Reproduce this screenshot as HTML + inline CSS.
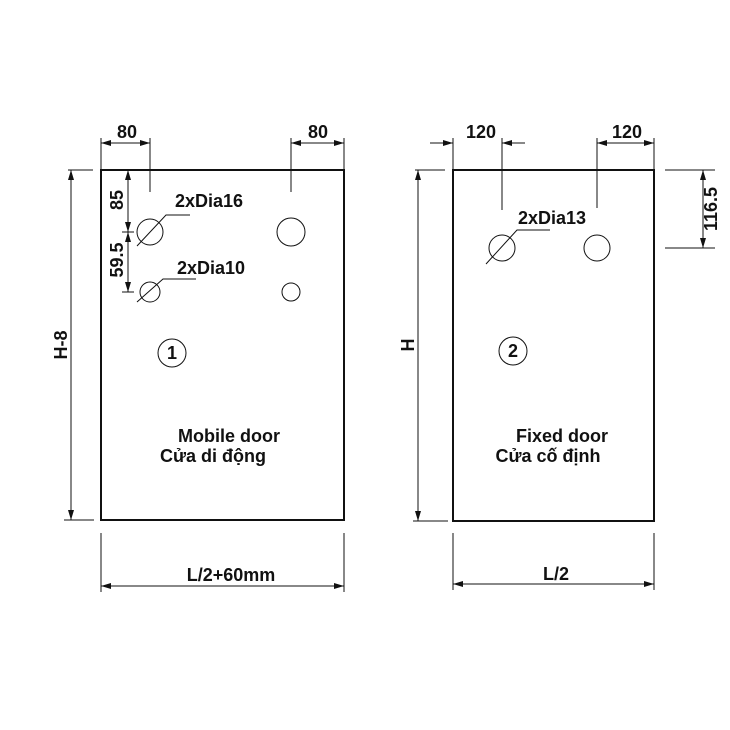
<!DOCTYPE html>
<html><head><style>
html,body{margin:0;padding:0;background:#fff;width:730px;height:730px;overflow:hidden}
svg text{font-family:"Liberation Sans",sans-serif;font-weight:bold;fill:#111}
</style></head><body>
<svg width="730" height="730" viewBox="0 0 730 730" xmlns="http://www.w3.org/2000/svg">
<defs>
<marker id="a" viewBox="0 0 10 6" refX="10" refY="3" markerWidth="10" markerHeight="6" orient="auto-start-reverse" markerUnits="userSpaceOnUse"><path d="M0,0 L10,3 L0,6 Z" fill="#111"/></marker>
</defs>
<g stroke="#111" fill="none">
<rect x="101" y="170" width="243" height="350" stroke-width="2"/>
<rect x="453" y="170" width="201" height="351" stroke-width="2"/>
<g stroke-width="1">
<line x1="101" y1="138" x2="101" y2="170"/><line x1="150" y1="138" x2="150" y2="192"/>
<line x1="101" y1="143" x2="150" y2="143" marker-start="url(#a)" marker-end="url(#a)"/>
<line x1="291" y1="138" x2="291" y2="192"/><line x1="344" y1="138" x2="344" y2="170"/>
<line x1="291" y1="143" x2="344" y2="143" marker-start="url(#a)" marker-end="url(#a)"/>
<line x1="128" y1="170" x2="128" y2="232" marker-start="url(#a)" marker-end="url(#a)"/>
<line x1="128" y1="232" x2="128" y2="292" marker-start="url(#a)" marker-end="url(#a)"/>
<line x1="122" y1="232" x2="134" y2="232"/><line x1="122" y1="292" x2="134" y2="292"/>
<circle cx="150" cy="232" r="13"/><circle cx="291" cy="232" r="14"/>
<circle cx="150" cy="292" r="10"/><circle cx="291" cy="292" r="9"/>
<polyline points="137,246 166,215 190,215"/>
<polyline points="137,302 163,279 196,279"/>
<line x1="68" y1="170" x2="93" y2="170"/><line x1="64" y1="520" x2="94" y2="520"/>
<line x1="71" y1="170" x2="71" y2="520" marker-start="url(#a)" marker-end="url(#a)"/>
<line x1="101" y1="533" x2="101" y2="592"/><line x1="344" y1="533" x2="344" y2="592"/>
<line x1="101" y1="586" x2="344" y2="586" marker-start="url(#a)" marker-end="url(#a)"/>
<circle cx="172" cy="353" r="14"/>
<line x1="453" y1="138" x2="453" y2="170"/><line x1="502" y1="138" x2="502" y2="210"/>
<line x1="430" y1="143" x2="453" y2="143" marker-end="url(#a)"/>
<line x1="525" y1="143" x2="502" y2="143" marker-end="url(#a)"/>
<line x1="597" y1="138" x2="597" y2="208"/><line x1="654" y1="138" x2="654" y2="170"/>
<line x1="597" y1="143" x2="654" y2="143" marker-start="url(#a)" marker-end="url(#a)"/>
<circle cx="502" cy="248" r="13"/><circle cx="597" cy="248" r="13"/>
<polyline points="486,264 517,230 550,230"/>
<line x1="665" y1="170" x2="715" y2="170"/><line x1="665" y1="248" x2="715" y2="248"/>
<line x1="703" y1="170" x2="703" y2="248" marker-start="url(#a)" marker-end="url(#a)"/>
<line x1="415" y1="170" x2="445" y2="170"/><line x1="413" y1="521" x2="448" y2="521"/>
<line x1="418" y1="170" x2="418" y2="521" marker-start="url(#a)" marker-end="url(#a)"/>
<line x1="453" y1="533" x2="453" y2="590"/><line x1="654" y1="533" x2="654" y2="590"/>
<line x1="453" y1="584" x2="654" y2="584" marker-start="url(#a)" marker-end="url(#a)"/>
<circle cx="513" cy="351" r="14"/>
</g></g>
<g font-size="18">
<text x="127" y="138" text-anchor="middle">80</text>
<text x="318" y="138" text-anchor="middle">80</text>
<text x="481" y="138" text-anchor="middle">120</text>
<text x="627" y="138" text-anchor="middle">120</text>
<text x="175" y="207">2xDia16</text>
<text x="177" y="274">2xDia10</text>
<text x="518" y="224">2xDia13</text>
<text transform="translate(123,200) rotate(-90)" text-anchor="middle">85</text>
<text transform="translate(123,260) rotate(-90)" text-anchor="middle">59.5</text>
<text transform="translate(717,209) rotate(-90)" text-anchor="middle">116.5</text>
<text transform="translate(67,345) rotate(-90)" text-anchor="middle">H-8</text>
<text transform="translate(414,345) rotate(-90)" text-anchor="middle">H</text>
<text x="172" y="359" text-anchor="middle">1</text>
<text x="513" y="357" text-anchor="middle">2</text>
<text x="229" y="442" text-anchor="middle">Mobile door</text>
<text x="213" y="462" text-anchor="middle">Cửa di động</text>
<text x="562" y="442" text-anchor="middle">Fixed door</text>
<text x="548" y="462" text-anchor="middle">Cửa cố định</text>
<text x="231" y="581" text-anchor="middle">L/2+60mm</text>
<text x="556" y="580" text-anchor="middle">L/2</text>
</g>
</svg>
</body></html>
